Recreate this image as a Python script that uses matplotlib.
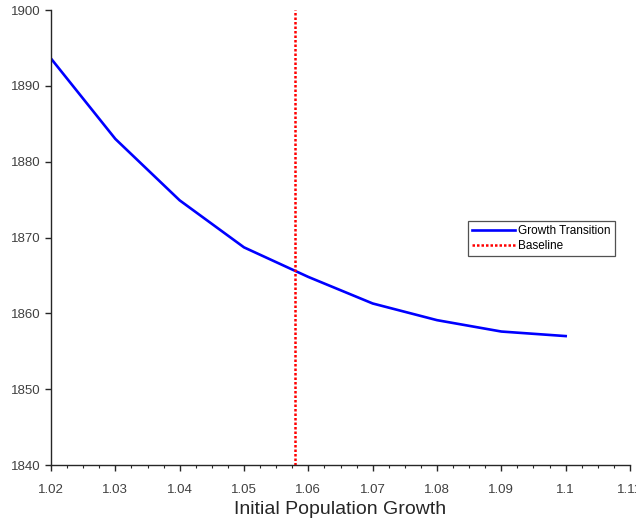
import matplotlib.pyplot as plt
from matplotlib.ticker import MultipleLocator

plt.rcParams['font.family'] = ['Liberation Sans', 'DejaVu Sans']

growth = [1.02, 1.03, 1.04, 1.05, 1.06, 1.07, 1.08, 1.09, 1.10]
transition = [1893.6, 1883.0, 1874.9, 1868.7, 1864.8, 1861.3, 1859.1, 1857.6, 1857.0]
baseline = 1.058


def main():
    fig = plt.figure(figsize=(6.36, 5.21), dpi=100)
    ax = fig.add_axes([51 / 636, 56 / 521, 579 / 636, 455 / 521])

    ax.plot(growth, transition, color='#0000ff', lw=1.9, label='Growth Transition')
    ax.axvline(baseline, color='#ff0000', lw=1.8, ls=(0, (1, 0.8)), label='Baseline')

    ax.set_xlim(1.02, 1.11)
    ax.set_ylim(1840, 1900)
    ax.set_xticks([1.02, 1.03, 1.04, 1.05, 1.06, 1.07, 1.08, 1.09, 1.10, 1.11])
    ax.set_xticklabels(['1.02', '1.03', '1.04', '1.05', '1.06', '1.07', '1.08', '1.09', '1.1', '1.11'])
    ax.xaxis.set_minor_locator(MultipleLocator(0.0025))
    ax.set_yticks([1840, 1850, 1860, 1870, 1880, 1890, 1900])

    for side in ['top', 'right']:
        ax.spines[side].set_visible(False)
    for side in ['left', 'bottom']:
        ax.spines[side].set_color('#262626')
        ax.spines[side].set_linewidth(1.0)

    ax.tick_params(which='major', direction='out', length=4.5, width=1, color='#262626',
                   labelsize=9.5, labelcolor='#404040')
    ax.tick_params(axis='x', which='major', pad=9)
    ax.tick_params(axis='y', which='major', pad=3)
    ax.tick_params(which='minor', direction='out', length=2.5, width=0.8, color='#262626')
    ax.set_xlabel('Initial Population Growth', fontsize=14, color='#262626', labelpad=4)

    leg = ax.legend(loc='upper left', bbox_to_anchor=(0.72, 0.537), fontsize=8.5,
                    frameon=True, fancybox=False, edgecolor='#262626',
                    handlelength=3.6, handletextpad=0.3, borderpad=0.35,
                    labelspacing=0.3, borderaxespad=0)
    leg.get_frame().set_linewidth(0.9)

    fig.savefig('out.png', dpi=100)


if __name__ == '__main__':
    main()
